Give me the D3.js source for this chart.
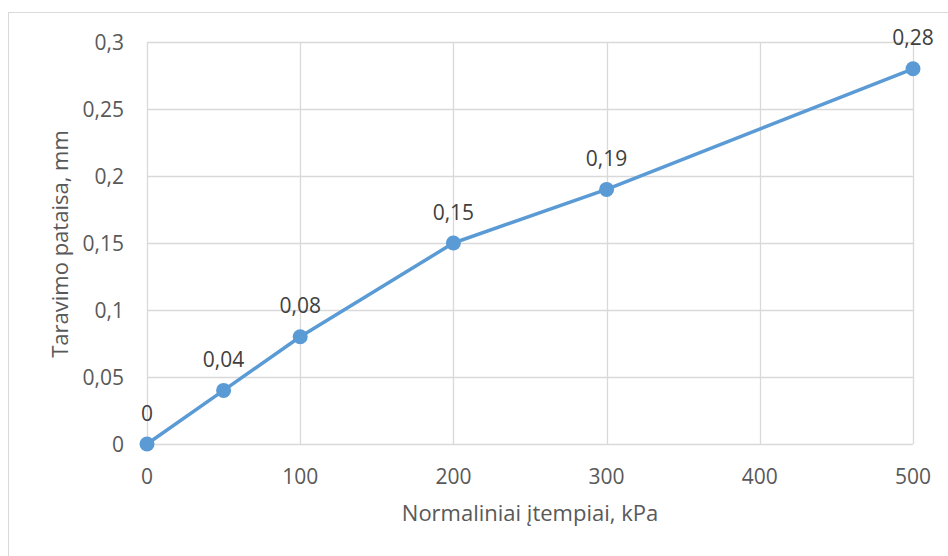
<!DOCTYPE html>
<html>
<head>
<meta charset="utf-8">
<script src="https://cdn.jsdelivr.net/npm/d3@7"></script>
<style>
body { margin: 0; background: #fff; }
text { font-family: "Open Sans", "Liberation Sans", sans-serif; }
</style>
</head>
<body>
<script>
var stress = [0, 50, 100, 200, 300, 500];
var correction = [0, 0.04, 0.08, 0.15, 0.19, 0.28];
var xTicks = [0, 100, 200, 300, 400, 500];
var yTicks = [0, 0.05, 0.1, 0.15, 0.2, 0.25, 0.3];

var svg = d3.select("body").append("svg").attr("width", 948).attr("height", 556);

// outer chart border (right/bottom fall outside the picture)
svg.append("rect")
    .attr("x", 8.5).attr("y", 12.5).attr("width", 960).attr("height", 580)
    .attr("fill", "none").attr("stroke", "#d9d9d9");

var x = d3.scaleLinear().domain([0, 500]).range([147, 913]);
var y = d3.scaleLinear().domain([0, 0.3]).range([444, 42]);

var fmt = function (d) { return String(d).replace(".", ","); };

// gridlines
svg.selectAll(".hg").data(yTicks).enter().append("line")
    .attr("x1", x(0)).attr("x2", x(500))
    .attr("y1", function (d) { return Math.round(y(d)) + 0.5; })
    .attr("y2", function (d) { return Math.round(y(d)) + 0.5; })
    .attr("stroke", "#d9d9d9").attr("stroke-width", 1.3);

svg.selectAll(".vg").data(xTicks).enter().append("line")
    .attr("y1", y(0)).attr("y2", y(0.3))
    .attr("x1", function (d) { return Math.round(x(d)) + 0.5; })
    .attr("x2", function (d) { return Math.round(x(d)) + 0.5; })
    .attr("stroke", "#d9d9d9").attr("stroke-width", 1.3);

// tick labels
svg.selectAll(".yl").data(yTicks).enter().append("text")
    .attr("x", 124).attr("y", function (d) { return y(d); })
    .attr("dy", "0.36em").attr("text-anchor", "end")
    .attr("font-size", 21).attr("fill", "#595959")
    .text(fmt);

svg.selectAll(".xl").data(xTicks).enter().append("text")
    .attr("x", function (d) { return x(d); }).attr("y", 469)
    .attr("dy", "0.72em").attr("text-anchor", "middle")
    .attr("font-size", 21).attr("fill", "#595959")
    .text(fmt);

// axis titles
svg.append("text")
    .attr("x", 530).attr("y", 521)
    .attr("text-anchor", "middle").attr("font-size", 22).attr("fill", "#595959")
    .text("Normaliniai įtempiai, kPa");

svg.append("text")
    .attr("transform", "translate(68,244) rotate(-90)")
    .attr("text-anchor", "middle").attr("font-size", 22).attr("fill", "#595959")
    .text("Taravimo pataisa, mm");

var pts = stress.map(function (s, i) { return [s, correction[i]]; });

svg.append("path")
    .datum(pts)
    .attr("fill", "none").attr("stroke", "#5b9bd5").attr("stroke-width", 3.5)
    .attr("stroke-linejoin", "round")
    .attr("d", d3.line().x(function (d) { return x(d[0]); }).y(function (d) { return y(d[1]); }));

svg.selectAll(".pt").data(pts).enter().append("circle")
    .attr("cx", function (d) { return x(d[0]); })
    .attr("cy", function (d) { return y(d[1]); })
    .attr("r", 7.5).attr("fill", "#5b9bd5");

svg.selectAll(".dl").data(pts).enter().append("text")
    .attr("x", function (d) { return x(d[0]); })
    .attr("y", function (d) { return y(d[1]) - 31; })
    .attr("dy", "0.36em").attr("text-anchor", "middle")
    .attr("font-size", 21).attr("fill", "#404040")
    .text(function (d) { return fmt(d[1]); });
</script>
</body>
</html>
